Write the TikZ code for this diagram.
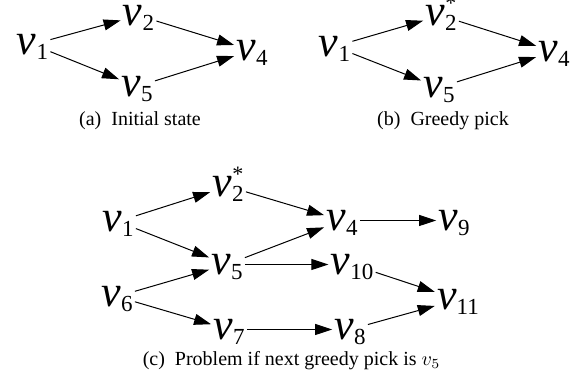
\documentclass[tikz,border=0pt]{standalone}
\usepackage{fontspec}
\setmainfont{Liberation Serif}
\usetikzlibrary{arrows.meta}
\newcommand{\vsub}[1]{{\fontsize{22}{22}\selectfont\itshape v}\raisebox{-2.5pt}{\fontsize{11.5}{11.5}\selectfont #1}}
\newcommand{\vstar}[1]{{\fontsize{22}{22}\selectfont\itshape v}\rlap{\raisebox{7.5pt}{\makebox[5.75pt]{\fontsize{11}{11}\selectfont *}}}\raisebox{-2.5pt}{\fontsize{11.5}{11.5}\selectfont #1}}

\begin{document}
\begin{tikzpicture}[x=0.5pt,y=-0.5pt,
  vert/.style={anchor=base,inner sep=1pt,text height=10.5pt,text depth=0pt},
  edge/.style={-{Triangle[length=8.5pt,width=5.5pt]},line width=0.5pt},
  subcap/.style={font=\fontsize{10}{12}\selectfont}]
\useasboundingbox (0,0) rectangle (580,385);
\node[vert] (a1) at (32.5,55) {\vsub{1}};
\node[vert] (a2) at (138.5,26) {\vsub{2}};
\node[vert] (a4) at (252,61) {\vsub{4}};
\node[vert] (a5) at (137,97) {\vsub{5}};
\draw[edge] (a1)--(a2);
\draw[edge] (a2)--(a4);
\draw[edge] (a1)--(a5);
\draw[edge] (a5)--(a4);
\node[subcap] (capa) at (140,121) {(a)\enspace Initial state};
\node[vert] (b1) at (334.5,57) {\vsub{1}};
\node[vert] (b2) at (441,26) {\vstar{2}};
\node[vert] (b4) at (554,62) {\vsub{4}};
\node[vert] (b5) at (439,98) {\vsub{5}};
\draw[edge] (b1)--(b2);
\draw[edge] (b2)--(b4);
\draw[edge] (b1)--(b5);
\draw[edge] (b5)--(b4);
\node[subcap] (capb) at (443,121) {(b)\enspace Greedy pick};
\node[vert] (c1) at (118,232) {\vsub{1}};
\node[vert] (c2) at (228,197) {\vstar{2}};
\node[vert] (c4) at (342,231) {\vsub{4}};
\node[vert] (c9) at (454,231) {\vsub{9}};
\node[vert] (c5) at (227,275) {\vsub{5}};
\node[vert] (c10) at (352,275) {\vsub{10}};
\node[vert] (c6) at (117,307) {\vsub{6}};
\node[vert] (c11) at (458,310) {\vsub{11}};
\node[vert] (c7) at (229,340) {\vsub{7}};
\node[vert] (c8) at (350,340) {\vsub{8}};
\draw[edge] (c1)--(c2);
\draw[edge] (c2)--(c4);
\draw[edge] (c1)--(c5);
\draw[edge] (c6)--(c5);
\draw[edge] (c5)--(c4);
\draw[edge] (c5)--(c10);
\draw[edge] (c4)--(c9);
\draw[edge] (c6)--(c7);
\draw[edge] (c7)--(c8);
\draw[edge] (c10)--(c11);
\draw[edge] (c8)--(c11);
\node[subcap] (capc) at (291.5,361) {(c)\enspace Problem if next greedy pick is $v_5$};
\end{tikzpicture}
\end{document}
